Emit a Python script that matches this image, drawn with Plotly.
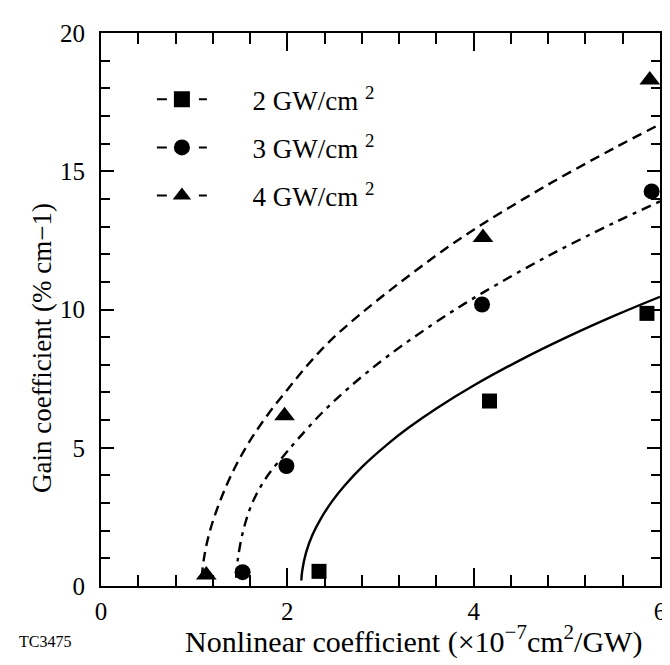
import plotly.graph_objects as go

# ---- data ----
tri_x = [1.13, 1.97, 4.10, 5.89]
tri_y = [0.40, 6.16, 12.60, 18.30]
cir_x = [1.52, 1.99, 4.09, 5.91]
cir_y = [0.50, 4.34, 10.18, 14.27]
sq_x = [2.34, 4.17, 5.86]
sq_y = [0.53, 6.69, 9.86]

# fitted curves
c4_x = [1.08, 1.11, 1.17, 1.27, 1.41, 1.58, 1.78, 2.00, 2.22, 2.47, 2.78, 3.20, 3.72, 4.10, 4.79, 5.51, 6.00]
c4_y = [0.30, 1.10, 2.00, 3.00, 4.10, 5.15, 6.15, 7.10, 8.00, 8.90, 9.82, 10.95, 12.25, 13.10, 14.50, 15.84, 16.70]
c3_x = [1.45, 1.47, 1.53, 1.63, 1.78, 1.97, 2.11, 2.36, 2.65, 3.08, 3.72, 4.10, 4.79, 5.51, 6.00]
c3_y = [0.30, 1.00, 2.05, 3.05, 3.95, 4.75, 5.30, 6.22, 7.14, 8.32, 9.82, 10.61, 11.92, 13.14, 13.91]
c2_x = [2.15, 2.16, 2.20, 2.27, 2.36, 2.48, 2.62, 2.80, 3.08, 3.30, 3.60, 4.00, 4.50, 5.00, 5.50, 6.00]
c2_y = [0.20, 0.55, 1.20, 1.85, 2.44, 3.06, 3.65, 4.30, 5.14, 5.72, 6.42, 7.25, 8.17, 9.00, 9.76, 10.46]

legend_labels = ["2 GW/cm <sup>2</sup>", "3 GW/cm <sup>2</sup>", "4 GW/cm <sup>2</sup>"]

FONT = "Liberation Serif"
BLACK = "black"
NB = "&nbsp;" * 6

fig = go.Figure()

# curves
fig.add_trace(go.Scatter(x=c4_x, y=c4_y, mode="lines", line_shape="spline",
                         line=dict(color=BLACK, width=2.4, dash="10px,6px"), showlegend=False))
fig.add_trace(go.Scatter(x=c3_x, y=c3_y, mode="lines", line_shape="spline",
                         line=dict(color=BLACK, width=2.4, dash="10px,6px,4px,6px"), showlegend=False))
fig.add_trace(go.Scatter(x=c2_x, y=c2_y, mode="lines", line_shape="spline",
                         line=dict(color=BLACK, width=2.4), showlegend=False))

# data points
fig.add_trace(go.Scatter(x=sq_x, y=sq_y, mode="markers", showlegend=False,
                         marker=dict(symbol="square", size=15, color=BLACK)))
fig.add_trace(go.Scatter(x=cir_x, y=cir_y, mode="markers", showlegend=False,
                         marker=dict(symbol="circle", size=16, color=BLACK)))
fig.add_trace(go.Scatter(x=tri_x, y=tri_y, mode="markers", showlegend=False,
                         marker=dict(symbol="triangle-up", size=18, color=BLACK)))

# legend entries
for i, (lab, sym) in enumerate(zip(legend_labels, ["square", "circle", "triangle-up"])):
    fig.add_trace(go.Scatter(x=[None], y=[None], mode="lines+markers", name=NB + lab,
                             legendgroup=str(i),
                             line=dict(color=BLACK, width=2, dash="10px,32px,10px"),
                             marker=dict(symbol=sym, size=16, color=BLACK)))

axis_common = dict(
    showgrid=False, zeroline=False, showline=True, linecolor=BLACK, linewidth=2,
    mirror="ticks", ticks="inside", tickcolor=BLACK, tickwidth=1.5,
    tickfont=dict(family=FONT, size=25, color=BLACK),
)

fig.update_layout(
    width=670, height=665,
    margin=dict(l=93, r=17, t=16, b=87),
    paper_bgcolor="white", plot_bgcolor="white",
    font=dict(family=FONT, color=BLACK),
    xaxis=dict(range=[0, 6], dtick=2, tick0=0, ticklen=18, ticklabelstandoff=2,
               minor=dict(dtick=0.4, tick0=0, ticks="inside", ticklen=11, tickcolor=BLACK, tickwidth=1.5),
               **axis_common),
    yaxis=dict(range=[0, 20], dtick=5, tick0=0, ticklen=13, ticklabelstandoff=9,
               minor=dict(dtick=1, tick0=0, ticks="inside", ticklen=9, tickcolor=BLACK, tickwidth=1.5),
               **axis_common),
    legend=dict(x=(144 - 93) / 560, y=(578 - 59) / 562, xanchor="left", yanchor="top",
                bgcolor="rgba(0,0,0,0)",
                font=dict(family=FONT, size=27, color=BLACK), tracegroupgap=10,
                itemwidth=50),
)

pw, ph = 670 - 93 - 17, 665 - 16 - 87
def px_to_paper(px, py):
    return (px - 93) / pw, (665 - 87 - py) / ph

texts = [
    ("Nonlinear coefficient (×10<sup>−7</sup>cm<sup>2</sup>/GW)", 406, 632, 30, 0),
    ("Gain coefficient (% cm−1)", 34, 336, 27, -90),
    ("TC3475", 37, 634, 16, 0),
]
for t, px, py, sz, ang in texts:
    ax, ay = px_to_paper(px, py)
    fig.add_annotation(text=t, x=ax, y=ay, xref="paper", yref="paper", showarrow=False,
                       xanchor="center", yanchor="middle", textangle=ang,
                       font=dict(family=FONT, size=sz, color=BLACK))

fig.write_html("out.html")
